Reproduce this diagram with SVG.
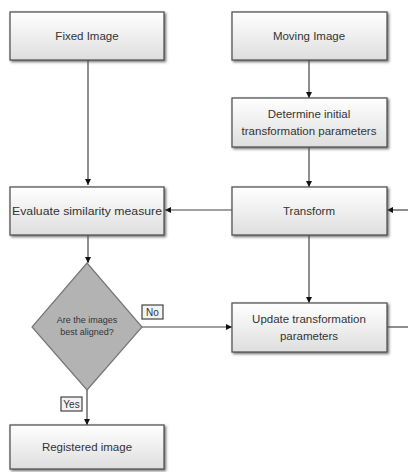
<svg xmlns="http://www.w3.org/2000/svg" width="408" height="472" viewBox="0 0 408 472">
<defs>
<linearGradient id="g" x1="0" y1="0" x2="0" y2="1">
<stop offset="0" stop-color="#ffffff"/>
<stop offset="1" stop-color="#dedede"/>
</linearGradient>
<marker id="ah" viewBox="0 0 8 8" refX="8" refY="4" markerWidth="6" markerHeight="6" orient="auto" markerUnits="userSpaceOnUse">
<path d="M0,0 L8,4 L0,8 z" fill="#111"/>
</marker>
<filter id="sh" x="-10%" y="-10%" width="130%" height="140%">
<feDropShadow dx="1.5" dy="1.5" stdDeviation="0.8" flood-color="#555" flood-opacity="0.8"/>
</filter>
</defs>
<style>
.box{fill:url(#g);stroke:#555;stroke-width:1.3;filter:url(#sh)}
.t{font-family:"Liberation Sans",Arial,sans-serif;font-size:11.5px;fill:#333;text-anchor:middle}
.st{font-family:"Liberation Sans",Arial,sans-serif;font-size:9px;fill:#333;text-anchor:middle}
.lt{font-family:"Liberation Sans",Arial,sans-serif;font-size:10px;fill:#333;text-anchor:middle}
.c{stroke:#444;stroke-width:1.2;fill:none}
.lbl{fill:#f2f2f2;stroke:#444;stroke-width:1.2}
</style>
<rect width="408" height="472" fill="#ffffff"/>
<g id="connectors">
<path class="c" d="M88,60 V185" marker-end="url(#ah)"/>
<path class="c" d="M309,60 V98" marker-end="url(#ah)"/>
<path class="c" d="M309,147 V187" marker-end="url(#ah)"/>
<path class="c" d="M232,210 H165" marker-end="url(#ah)"/>
<path class="c" d="M408,210 H387" marker-end="url(#ah)"/>
<path class="c" d="M88,235 V263" marker-end="url(#ah)"/>
<path class="c" d="M309,235 V303" marker-end="url(#ah)"/>
<path class="c" d="M142,327 H232" marker-end="url(#ah)"/>
<path class="c" d="M387,327 H408"/>
<path class="c" d="M87,390 V425" marker-end="url(#ah)"/>
</g>
<g id="fixed"><rect class="box" x="10" y="12" width="154" height="48"/><text class="t" x="87" y="40">Fixed Image</text></g>
<g id="moving"><rect class="box" x="232" y="12" width="155" height="48"/><text class="t" x="309" y="40">Moving Image</text></g>
<g id="determine"><rect class="box" x="232" y="98" width="155" height="49"/><text class="t" x="309" y="118">Determine initial</text><text class="t" x="309" y="135">transformation parameters</text></g>
<g id="evaluate"><rect class="box" x="10" y="187" width="154" height="48"/><text class="t" x="87" y="215" textLength="150" lengthAdjust="spacingAndGlyphs">Evaluate similarity measure</text></g>
<g id="transform"><rect class="box" x="232" y="187" width="155" height="48"/><text class="t" x="309" y="215">Transform</text></g>
<g id="decision"><path d="M87,263 L142,327 L87,390 L32,327 Z" fill="#b3b3b3" stroke="#777" stroke-width="1.2"/><text class="st" x="87" y="323">Are the images</text><text class="st" x="87" y="335">best aligned?</text></g>
<g id="update"><rect class="box" x="232" y="303" width="155" height="49"/><text class="t" x="309" y="323">Update transformation</text><text class="t" x="309" y="340">parameters</text></g>
<g id="no"><rect class="lbl" x="142" y="305" width="21" height="14"/><text class="lt" x="152.5" y="316">No</text></g>
<g id="yes"><rect class="lbl" x="61" y="397" width="21" height="14"/><text class="lt" x="71.5" y="408">Yes</text></g>
<g id="registered"><rect class="box" x="10" y="425" width="154" height="44"/><text class="t" x="87" y="451">Registered image</text></g>
</svg>
